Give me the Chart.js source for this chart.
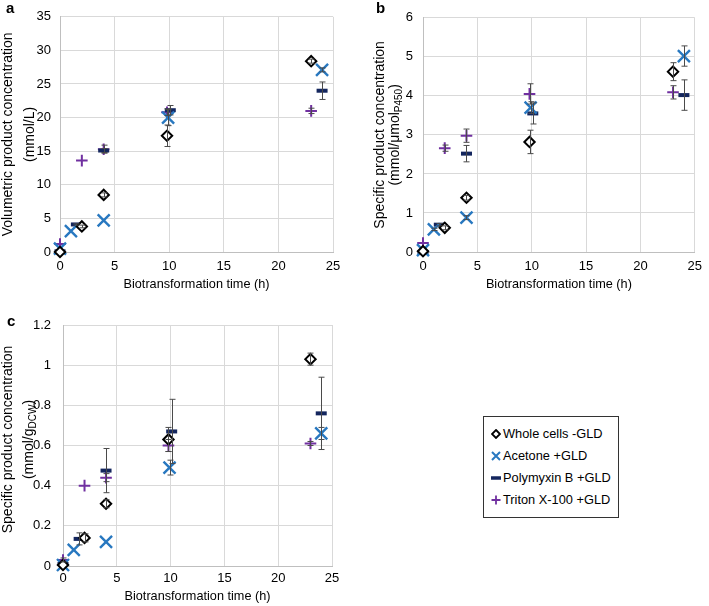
<!DOCTYPE html>
<html>
<head>
<meta charset="utf-8">
<script src="https://cdn.jsdelivr.net/npm/chart.js@4.4.0/dist/chart.umd.min.js"></script>
<style>
  body { margin: 0; background: #fff; width: 709px; height: 606px; position: relative; overflow: hidden;
         font-family: "Liberation Sans", Arial, sans-serif; }
  canvas { position: absolute; }
  #legend { position: absolute; left: 483px; top: 416px; width: 136px; height: 102px;
            border: 1px solid #333; font-size: 12.8px; color: #000; padding-top: 6px; box-sizing: border-box; }
  #legend .row { position: relative; height: 22px; line-height: 22px; padding-left: 19px; white-space: nowrap; }
  #legend svg { position: absolute; left: 7px; top: 6px; }
</style>
</head>
<body>
<canvas id="chartA" width="355" height="300" style="left:0;top:0"></canvas>
<canvas id="chartB" width="354" height="300" style="left:355px;top:0"></canvas>
<canvas id="chartC" width="355" height="306" style="left:0;top:300px"></canvas>
<div id="legend">
  <div class="row"><svg width="10" height="10"><path d="M5 1 L9 5 L5 9 L1 5 Z" fill="#fff" stroke="#000" stroke-width="1.8"/></svg>Whole cells -GLD</div>
  <div class="row"><svg width="10" height="10"><path d="M1 1 L9 9 M9 1 L1 9" stroke="#2878C0" stroke-width="2"/></svg>Acetone +GLD</div>
  <div class="row"><svg width="10" height="10"><path d="M0 5 L10 5" stroke="#14265E" stroke-width="3.5"/></svg>Polymyxin B +GLD</div>
  <div class="row"><svg width="10" height="10"><path d="M5 0.5 L5 9.5 M0.5 5 L9.5 5" stroke="#7030A0" stroke-width="1.8"/></svg>Triton X-100 +GLD</div>
</div>
<script>
"use strict";

// sampling times (h), slightly offset per treatment as in the figure
const timesWhole = [0, 2, 4, 9.8, 23];
const timesAcetone = [0, 1, 4, 9.9, 24];
const timesPolymyxin = [0, 1.5, 4, 10.1, 24];
const timesTriton = [0, 2, 4, 9.8, 23];

// a: volumetric product concentration (mmol/L)
const volWhole = [0, 3.8, 8.5, 17.3, 28.4];
const volWholeErr = [0, 0.2, 0.3, 1.6, 0.3];
const volAcetone = [0.5, 3.1, 4.7, 20.0, 27.1];
const volAcetoneErr = [0, 0, 0, 1.2, 0.3];
const volPolymyxin = [0.1, 4.1, 15.1, 21.1, 24.0];
const volPolymyxinErr = [0, 0.1, 0.3, 0.7, 1.3];
const volTriton = [1.2, 13.6, 15.3, 20.8, 21.0];
const volTritonErr = [0, 0, 0.6, 0.5, 0.4];

// b: specific product concentration (mmol/umol P450)
const spWhole = [0.02, 0.62, 1.39, 2.82, 4.62];
const spWholeErr = [0, 0.05, 0.06, 0.3, 0.23];
const spAcetone = [0.05, 0.58, 0.88, 3.7, 5.02];
const spAcetoneErr = [0, 0.03, 0.05, 0.15, 0.26];
const spPolymyxin = [0, 0.7, 2.52, 3.55, 4.02];
const spPolymyxinErr = [0, 0.03, 0.21, 0.27, 0.39];
const spTriton = [0.23, 2.66, 2.98, 4.05, 4.09];
const spTritonErr = [0, 0.08, 0.17, 0.26, 0.17];

// c: specific product concentration (mmol/g DCW)
const dcwWhole = [0.005, 0.14, 0.31, 0.63, 1.03];
const dcwWholeErr = [0, 0.02, 0.02, 0.06, 0.03];
const dcwAcetone = [0.005, 0.08, 0.12, 0.49, 0.66];
const dcwAcetoneErr = [0, 0, 0, 0.037, 0.03];
const dcwPolymyxin = [0.01, 0.135, 0.475, 0.67, 0.76];
const dcwPolymyxinErr = [0, 0.03, 0.11, 0.16, 0.18];
const dcwTriton = [0.03, 0.40, 0.44, 0.60, 0.61];
const dcwTritonErr = [0.01, 0, 0.02, 0.03, 0.01];

// tick labels
const xTicks = [0, 5, 10, 15, 20, 25];
const yTicksA = [0, 5, 10, 15, 20, 25, 30, 35];
const yTicksB = [0, 1, 2, 3, 4, 5, 6];
const yTicksC = [0, 0.2, 0.4, 0.6, 0.8, 1, 1.2];

const FONT = "'Liberation Sans', Arial, sans-serif";

function pts(xs, ys) { return xs.map((x, i) => ({ x: x, y: ys[i] })); }

function makeSets(w, we, a, ae, p, pe, t, te) {
  return [
    { label: 'Whole cells -GLD', data: pts(timesWhole, w), errors: we, pointStyle: 'rectRot',
      pointRadius: 5.2, pointBorderWidth: 2, pointBorderColor: '#000', pointBackgroundColor: '#fff' },
    { label: 'Acetone +GLD', data: pts(timesAcetone, a), errors: ae, pointStyle: 'crossRot',
      pointRadius: 8.5, pointBorderWidth: 2.4, pointBorderColor: '#2878C0', pointBackgroundColor: '#2878C0' },
    { label: 'Polymyxin B +GLD', data: pts(timesPolymyxin, p), errors: pe, pointStyle: 'line',
      pointRadius: 5.5, pointBorderWidth: 4, pointBorderColor: '#14265E', pointBackgroundColor: '#14265E' },
    { label: 'Triton X-100 +GLD', data: pts(timesTriton, t), errors: te, pointStyle: 'cross',
      pointRadius: 5.8, pointBorderWidth: 2, pointBorderColor: '#7030A0', pointBackgroundColor: '#7030A0' }
  ].map(d => Object.assign(d, { showLine: false, clip: false }));
}

const errorBars = {
  id: 'errorBars',
  afterDatasetsDraw(chart) {
    const ctx = chart.ctx, xs = chart.scales.x, ys = chart.scales.y;
    ctx.save();
    ctx.strokeStyle = '#4a4a4a';
    ctx.lineWidth = 1;
    chart.data.datasets.forEach(ds => {
      ds.errors.forEach((e, i) => {
        if (!e) return;
        const p = ds.data[i];
        const x = Math.round(xs.getPixelForValue(p.x)) + 0.5;
        const y1 = ys.getPixelForValue(p.y - e), y2 = ys.getPixelForValue(p.y + e);
        ctx.beginPath();
        ctx.moveTo(x, y1); ctx.lineTo(x, y2);
        ctx.moveTo(x - 3, y1); ctx.lineTo(x + 3, y1);
        ctx.moveTo(x - 3, y2); ctx.lineTo(x + 3, y2);
        ctx.stroke();
      });
    });
    ctx.restore();
  }
};

// panel letter and two-line rotated y title (with subscripts)
const panelText = {
  id: 'panelText',
  afterDraw(chart, args, o) {
    const ctx = chart.ctx;
    ctx.save();
    ctx.fillStyle = '#000';
    ctx.font = 'bold 15px ' + FONT;
    ctx.textBaseline = 'alphabetic';
    ctx.fillText(o.letter, o.letterX, o.letterY);
    const cy = (chart.chartArea.top + chart.chartArea.bottom) / 2 + (o.dy || 0);
    o.lines.forEach((segs, li) => {
      ctx.save();
      ctx.translate(o.lineX[li], cy);
      ctx.rotate(-Math.PI / 2);
      ctx.textBaseline = 'middle';
      ctx.textAlign = 'left';
      let total = 0;
      const widths = segs.map(s => {
        ctx.font = (s.sub ? '10px ' : '14px ') + FONT;
        const w = ctx.measureText(s.t).width;
        total += w;
        return w;
      });
      let pos = -total / 2;
      segs.forEach((s, i) => {
        ctx.font = (s.sub ? '10px ' : '14px ') + FONT;
        ctx.fillText(s.t, pos, s.sub ? 4 : 0);
        pos += widths[i];
      });
      ctx.restore();
    });
    ctx.restore();
  }
};

function makeChart(id, sets, yTicks, geo, text) {
  return new Chart(document.getElementById(id), {
    type: 'scatter',
    data: { datasets: sets },
    plugins: [errorBars, panelText],
    options: {
      responsive: false,
      animation: false,
      layout: { padding: { left: 0, top: geo.top, right: geo.right, bottom: 0 } },
      plugins: { legend: { display: false }, tooltip: { enabled: false }, panelText: text },
      scales: {
        x: {
          type: 'linear', min: xTicks[0], max: xTicks[xTicks.length - 1],
          afterBuildTicks: s => { s.ticks = xTicks.map(v => ({ value: v })); },
          afterFit: s => { s.height = geo.xh; },
          ticks: { color: '#000', font: { family: FONT, size: 13 }, padding: geo.xpad, maxRotation: 0,
                   callback: v => String(v) },
          grid: { color: '#D9D9D9', drawTicks: false },
          border: { color: '#BFBFBF' },
          title: { display: true, text: 'Biotransformation time (h)', color: '#000',
                   font: { family: FONT, size: 12.7 }, padding: { top: 0, bottom: geo.tpad } }
        },
        y: {
          type: 'linear', min: yTicks[0], max: yTicks[yTicks.length - 1],
          afterBuildTicks: s => { s.ticks = yTicks.map(v => ({ value: v })); },
          afterFit: s => { s.width = geo.yw; },
          ticks: { color: '#000', font: { family: FONT, size: 13 }, padding: geo.ypad,
                   callback: v => String(v) },
          grid: { color: '#D9D9D9', drawTicks: false },
          border: { color: '#BFBFBF' }
        }
      }
    }
  });
}

makeChart('chartA',
  makeSets(volWhole, volWholeErr, volAcetone, volAcetoneErr, volPolymyxin, volPolymyxinErr, volTriton, volTritonErr),
  yTicksA,
  { top: 11, right: 22, xh: 48, yw: 60, xpad: 7, ypad: 9, tpad: 8 },
  { letter: 'a', letterX: 6, letterY: 13, lineX: [8, 30],
    lines: [[{ t: 'Volumetric product concentration' }], [{ t: '(mmol/L)' }]] });

makeChart('chartB',
  makeSets(spWhole, spWholeErr, spAcetone, spAcetoneErr, spPolymyxin, spPolymyxinErr, spTriton, spTritonErr),
  yTicksB,
  { top: 11, right: 6, xh: 48, yw: 68, xpad: 7, ypad: 10, tpad: 8 },
  { letter: 'b', letterX: 21, letterY: 13, lineX: [25, 40],
    lines: [[{ t: 'Specific product concentration' }],
            [{ t: '(mmol/\u03bcmol' }, { t: 'P450', sub: true }, { t: ')' }]] });

makeChart('chartC',
  makeSets(dcwWhole, dcwWholeErr, dcwAcetone, dcwAcetoneErr, dcwPolymyxin, dcwPolymyxinErr, dcwTriton, dcwTritonErr),
  yTicksC,
  { top: 25, right: 23, xh: 40, yw: 63, xpad: 5, ypad: 12, tpad: 2 },
  { letter: 'c', letterX: 7, letterY: 26, lineX: [8, 29], dy: -6,
    lines: [[{ t: 'Specific product concentration' }],
            [{ t: '(mmol/g' }, { t: 'DCW', sub: true }, { t: ')' }]] });
</script>
</body>
</html>
